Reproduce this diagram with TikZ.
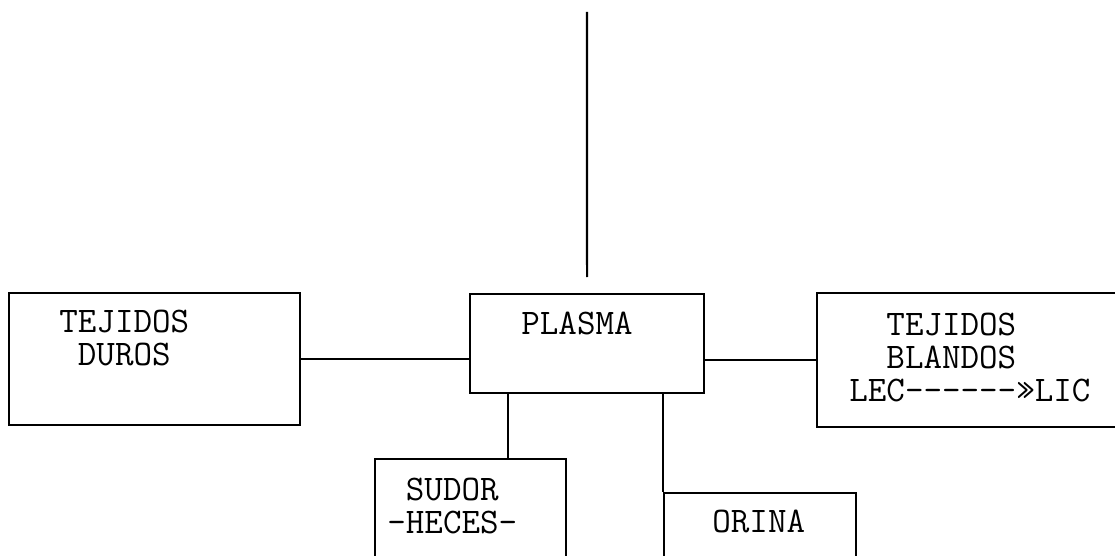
\documentclass[tikz,border=0pt]{standalone}
\usepackage{tikz}
\usetikzlibrary{positioning}

\begin{document}
\begin{tikzpicture}[
  x=0.5pt, y=-0.5pt,
  caja/.style={rectangle, draw, line width=1.1pt, inner sep=0pt,
               anchor=north west},
  texto/.style={font=\ttfamily\fontsize{18}{16.5}\selectfont, align=left,
               inner sep=0pt, anchor=north west},
  linea/.style={line width=1.1pt}
]
\useasboundingbox (0,0) rectangle (1115,556);
\clip (0,0) rectangle (1115,556);

% cajas
\node[caja, minimum width=145.5pt, minimum height=66pt] (duros) at (8,292) {};
\node[caja, minimum width=117pt, minimum height=49.5pt] (plasma) at (469,293) {};
\node[caja, draw=none, minimum width=160pt, minimum height=66pt] (blandos) at (817,293) {};
\node[caja, minimum width=95.5pt, minimum height=62pt] (sudor) at (374,458) {};
\node[caja, minimum width=96pt, minimum height=45pt] (orina) at (663,492) {};
\draw[linea] (blandos.north east) -- (blandos.north west) -- (blandos.south west) -- (blandos.south east);

% textos
\node[texto] (tduros) at (59,310) {TEJIDOS\\\phantom{T}DUROS};
\node[texto] (tplasma) at (521,312) {PLASMA};
\node[texto] (tblandos) at (849,313)
  {\phantom{TE}TEJIDOS\\\phantom{TE}BLANDOS\\LEC-{}-{}-{}-{}-{}-»LIC};
\node[texto] (tsudor) at (387,478) {\phantom{-}SUDOR\\–HECES–};
\node[texto] (torina) at (712,510) {ORINA};

% conexiones
\coordinate (entrada) at (587,12);
\draw[linea] (entrada) -- ([yshift=8pt]plasma.north);
\draw[linea] (duros.east) -- (duros.east -| plasma.west);
\draw[linea] (blandos.west) -- (blandos.west -| plasma.east);
\draw[linea] ([xshift=19.5pt]plasma.south west) -- ([xshift=19.5pt]plasma.south west |- sudor.north);
\draw[linea] (orina.north west |- plasma.south) -- (orina.north west);
\end{tikzpicture}
\end{document}
